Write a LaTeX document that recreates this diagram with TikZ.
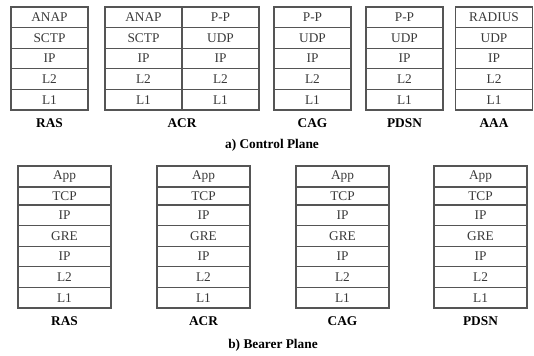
\documentclass[tikz,border=0pt]{standalone}
\usepackage{fontspec}
\setmainfont{Liberation Serif}
\usetikzlibrary{positioning}
\definecolor{lineGray}{HTML}{555555}
\definecolor{textGray}{HTML}{3A3A3A}

\begin{document}
\begin{tikzpicture}[
    x=0.75pt, y=-0.75pt,
    node distance=0pt,
    layer/.style={rectangle, draw=lineGray, line width=0.9pt, minimum width=57.75pt, minimum height=15.45pt, inner sep=0pt, outer sep=0pt, font=\normalsize, text=textGray},
    wide/.style={minimum width=69.75pt},
    entity/.style={font=\normalsize\bfseries, inner sep=0pt},
    caption/.style={font=\normalsize\bfseries, inner sep=0pt}
]
\useasboundingbox (0,0) rectangle (534,355);

% Control plane stacks
\foreach \stk/\xl/\protos in {ras/11/{ANAP,SCTP,IP,L2,L1}, acra/105/{ANAP,SCTP,IP,L2,L1}, acrb/182/{P-P,UDP,IP,L2,L1}, cag/274/{P-P,UDP,IP,L2,L1}, pdsn/366/{P-P,UDP,IP,L2,L1}, aaa/455.5/{RADIUS,UDP,IP,L2,L1}} {
    \coordinate (\stk-0) at (\xl+38.5,7);
    \foreach \p [count=\i, remember=\i as \j (initially 0)] in \protos
        \node[layer, below=of \stk-\j] (\stk-\i) {\p};
}

\node[entity, below=6pt of ras-5] (rasC) {RAS};
\node[entity, below=6pt of acra-5.south east] (acrC) {ACR};
\node[entity, below=6pt of cag-5] (cagC) {CAG};
\node[entity, below=6pt of pdsn-5] (pdsnC) {PDSN};
\node[entity, below=6pt of aaa-5] (aaaC) {AAA};
\node[caption] (ctrl) at (272,145) {a) Control Plane};

% Bearer plane stacks
\foreach \stk/\xl in {rasb/18, acrb2/157, cagb/296, pdsnb/434} {
    \coordinate (\stk-0) at (\xl+46.5,166);
    \foreach \p/\h [count=\i, remember=\i as \j (initially 0)] in {App/21,TCP/18,IP/20.6,GRE/20.6,IP/20.6,L2/20.6,L1/20.6}
        \node[layer, wide, minimum height=\h*0.75pt, below=of \stk-\j] (\stk-\i) {\p};
}

\node[entity, below=6pt of rasb-7] (rasB) {RAS};
\node[entity, below=6pt of acrb2-7] (acrB) {ACR};
\node[entity, below=6pt of cagb-7] (cagB) {CAG};
\node[entity, below=6pt of pdsnb-7] (pdsnB) {PDSN};
\node[caption] (bear) at (273,345) {b) Bearer Plane};

\end{tikzpicture}
\end{document}
